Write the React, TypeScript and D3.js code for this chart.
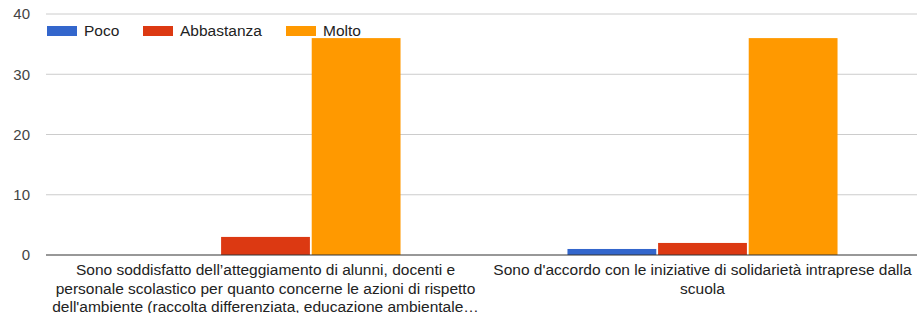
import React from "react";
import * as d3 from "d3";

// dati
const categories = [
  [
    "Sono soddisfatto dell’atteggiamento di alunni, docenti e",
    "personale scolastico per quanto concerne le azioni di rispetto",
    "dell'ambiente (raccolta differenziata, educazione ambientale…",
  ],
  ["Sono d'accordo con le iniziative di solidarietà intraprese dalla", "scuola"],
];
const seriesNames = ["Poco", "Abbastanza", "Molto"];
const poco = [0, 1];
const abbastanza = [3, 2];
const molto = [36, 36];
const yTicks = [0, 10, 20, 30, 40];

const colors = ["#3366cc", "#dc3912", "#ff9900"];

const W = 917;
const H = 313;
const left = 47;
const right = 921;
const top = 14;
const bottom = 255;
const font = "Arial, 'Liberation Sans', sans-serif";

export default function App() {
  const values = [poco, abbastanza, molto];
  const x0 = d3
    .scaleBand<number>()
    .domain(categories.map((_, i) => i))
    .range([left, right])
    .paddingInner(0.382)
    .paddingOuter(0.191);
  const x1 = d3
    .scaleBand<number>()
    .domain(seriesNames.map((_, i) => i))
    .range([0, x0.bandwidth()])
    .paddingInner(0.02);
  const y = d3.scaleLinear().domain([0, 40]).range([bottom, top]);

  return (
    <svg
      width={W}
      height={H}
      style={{ position: "absolute", left: 0, top: 0 }}
      fontFamily={font}
    >
      <rect width={W} height={H} fill="#fff" />
      {yTicks.map((t) => (
        <g key={t}>
          {t !== 0 && (
            <line x1={left - 1} x2={W} y1={y(t)} y2={y(t)} stroke="#cccccc" strokeWidth={1} />
          )}
          <text x={30} y={y(t)} dy="0.35em" textAnchor="end" fontSize={15} fill="#444">
            {t}
          </text>
        </g>
      ))}
      {categories.map((_, ci) =>
        values.map((vals, si) => (
          <rect
            key={`${ci}-${si}`}
            x={(x0(ci) ?? 0) + (x1(si) ?? 0)}
            y={y(vals[ci])}
            width={x1.bandwidth()}
            height={bottom - y(vals[ci])}
            fill={colors[si]}
          />
        ))
      )}
      <line x1={left - 1} x2={W} y1={bottom} y2={bottom} stroke="#333" strokeWidth={1.2} />
      {categories.map((lines, ci) => (
        <text
          key={ci}
          x={(x0(ci) ?? 0) + x0.bandwidth() / 2}
          y={275}
          textAnchor="middle"
          fontSize={15.5}
          fill="#222"
        >
          {lines.map((l, li) => (
            <tspan key={li} x={(x0(ci) ?? 0) + x0.bandwidth() / 2} dy={li === 0 ? 0 : 18.5}>
              {l}
            </tspan>
          ))}
        </text>
      ))}
      {/* legenda */}
      {seriesNames.map((n, i) => {
        const lx = [47, 143, 286][i];
        return (
          <g key={n}>
            <rect x={lx} y={26} width={30} height={10} fill={colors[i]} />
            <text x={lx + 37} y={31} dy="0.35em" fontSize={15.5} fill="#222">
              {n}
            </text>
          </g>
        );
      })}
    </svg>
  );
}
